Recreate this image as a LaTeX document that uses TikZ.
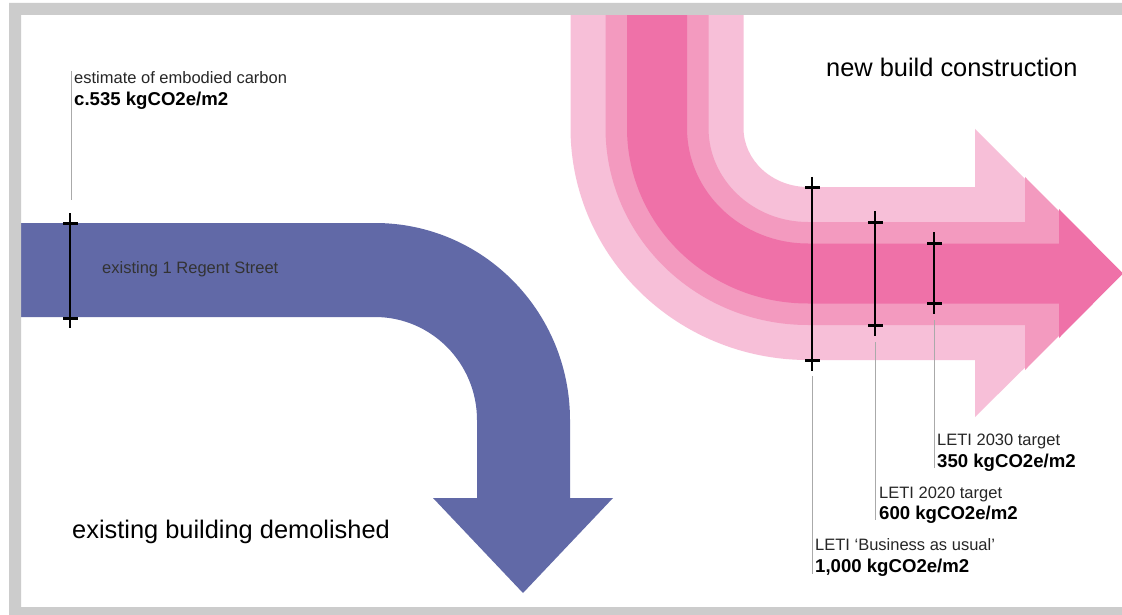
\documentclass[tikz,border=0pt]{standalone}
\usepackage{fontspec}
\setmainfont{Liberation Sans}
\definecolor{framegray}{HTML}{CCCCCC}
\definecolor{demblue}{HTML}{6169A7}
\definecolor{pinkA}{HTML}{F7BFD8}
\definecolor{pinkB}{HTML}{F39ABF}
\definecolor{pinkC}{HTML}{EF71A8}
\definecolor{leadgray}{HTML}{AAAAAA}
\tikzset{
  lbl/.style={anchor=base west, inner sep=0pt, text=black!85, font=\fontsize{16.5}{18}\selectfont},
  val/.style={anchor=base west, inner sep=0pt, text=black, font=\bfseries\fontsize{18.6}{20}\selectfont},
  headline/.style={anchor=base west, inner sep=0pt, text=black, font=\fontsize{25.4}{28}\selectfont},
  leader/.style={draw=leadgray, line width=1pt},
  measbar/.style={draw=black, line width=2pt},
  meastick/.style={draw=black, line width=3pt},
}
\begin{document}
\begin{tikzpicture}[x=1pt,y=-1pt]
\useasboundingbox (0,0) rectangle (1122,615);
\clip (0,0) rectangle (1122,615);
\fill[white] (0,0) rectangle (1122,615);

% blue arrow (existing building)
\fill[demblue] (15,223) -- (375,223) .. controls (482.7,223) and (570,311.2) .. (570,420)
  -- (570,498) -- (613,498) -- (523,593) -- (433,498) -- (477,498) -- (477,420)
  .. controls (477,363.1) and (431.3,317) .. (375,317) -- (15,317) -- cycle;

% pink arrows (new build)
\fill[pinkA] (570.5,9) -- (570.5,128) .. controls (570.5,256.1) and (676.8,360) .. (808,360)
  -- (975,360) -- (975,417) -- (1120,273.5) -- (975,129) -- (975,187) -- (808,187)
  .. controls (772.4,187) and (743.5,160.6) .. (743.5,128) -- (743.5,9) -- cycle;
\fill[pinkB] (605.5,9) -- (605.5,128) .. controls (605.5,236.8) and (696.2,325) .. (808,325)
  -- (1025,325) -- (1025,370) -- (1121,273.5) -- (1025,177) -- (1025,222) -- (808,222)
  .. controls (753.0,222) and (708.5,179.9) .. (708.5,128) -- (708.5,9) -- cycle;
\fill[pinkC] (627,9) -- (627,128) .. controls (627,224.9) and (708.0,303.5) .. (808,303.5)
  -- (1059,303.5) -- (1059,338) -- (1123,273.5) -- (1059,209) -- (1059,243.5) -- (808,243.5)
  .. controls (741.2,243.5) and (687,191.8) .. (687,128) -- (687,9) -- cycle;

% measuring bars
\coordinate (m0t) at (70,213); \coordinate (m0b) at (70,328);
\draw[measbar] (m0t) -- (m0b);
\draw[meastick] (63,223) -- (78,223);
\draw[meastick] (63,318) -- (78,318);

\coordinate (m1t) at (812,177); \coordinate (m1b) at (812,371);
\draw[measbar] (m1t) -- (m1b);
\draw[meastick] (805,187) -- (820,187);
\draw[meastick] (805,360) -- (820,360);

\coordinate (m2t) at (875,211); \coordinate (m2b) at (875,336);
\draw[measbar] (m2t) -- (m2b);
\draw[meastick] (868,222) -- (883,222);
\draw[meastick] (868,325) -- (883,325);

\coordinate (m3t) at (934,232); \coordinate (m3b) at (934,314);
\draw[measbar] (m3t) -- (m3b);
\draw[meastick] (927,243) -- (942,243);
\draw[meastick] (927,303) -- (942,303);

% texts
\node[lbl] (est) at (74,84) {estimate of embodied carbon};
\node[val] (estv) at (74,106) {c.535 kgCO2e/m2};
\node[lbl, text=black!80] (reg) at (102,273) {existing 1 Regent Street};
\node[headline] (dem) at (72,538) {existing building demolished};
\node[headline] (nbc) at (826,77) {new build construction};

\node[lbl] (l30) at (937,445) {LETI 2030 target};
\node[val] (l30v) at (937,467) {350 kgCO2e/m2};
\node[lbl] (l20) at (879,498) {LETI 2020 target};
\node[val] (l20v) at (879,519) {600 kgCO2e/m2};
\node[lbl] (lbau) at (815,550) {LETI ‘Business as usual’};
\node[val] (lbauv) at (815,572) {1,000 kgCO2e/m2};

% leader lines
\coordinate (e0) at (71,71); \coordinate (e1) at (71,200);
\draw[leader] (e0) -- (e1);
\coordinate (a0) at (812,376); \coordinate (a1) at (812,574);
\draw[leader] (a0) -- (a1);
\coordinate (b0) at (875,342); \coordinate (b1) at (875,520);
\draw[leader] (b0) -- (b1);
\coordinate (c0) at (934,320); \coordinate (c1) at (934,468);
\draw[leader] (c0) -- (c1);

% frame
\fill[framegray, even odd rule] (9,3) rectangle (1140,630) (21,15) rectangle (1135,607);
\end{tikzpicture}
\end{document}
